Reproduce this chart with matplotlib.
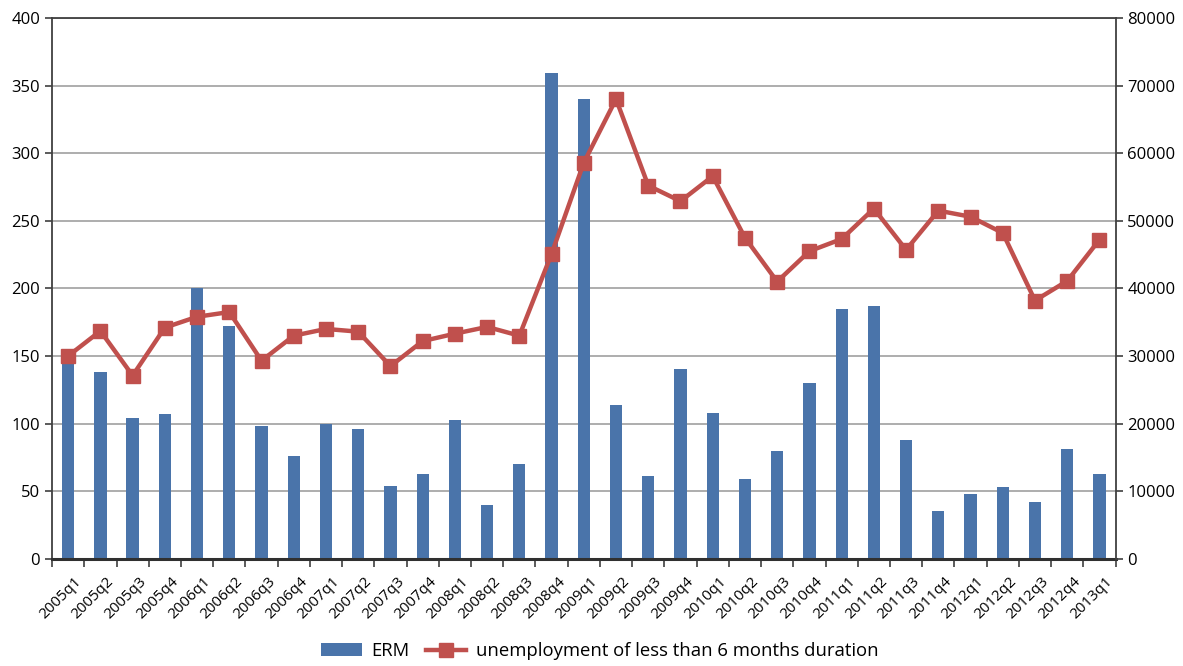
import numpy as np
import matplotlib
matplotlib.use("Agg")
import matplotlib.pyplot as plt
from matplotlib.transforms import ScaledTranslation

plt.rcParams["font.family"] = ["Open Sans", "DejaVu Sans"]

quarters = [
    "2005q1", "2005q2", "2005q3", "2005q4",
    "2006q1", "2006q2", "2006q3", "2006q4",
    "2007q1", "2007q2", "2007q3", "2007q4",
    "2008q1", "2008q2", "2008q3", "2008q4",
    "2009q1", "2009q2", "2009q3", "2009q4",
    "2010q1", "2010q2", "2010q3", "2010q4",
    "2011q1", "2011q2", "2011q3", "2011q4",
    "2012q1", "2012q2", "2012q3", "2012q4",
    "2013q1",
]

erm = [
    150, 138, 104, 107,
    200, 172, 98, 76,
    100, 96, 54, 63,
    103, 40, 70, 359,
    340, 114, 61, 140,
    108, 59, 80, 130,
    185, 187, 88, 35,
    48, 53, 42, 81,
    63,
]

unemp_short = [
    30000, 33700, 27100, 34200,
    35800, 36500, 29300, 33000,
    34000, 33600, 28500, 32200,
    33300, 34300, 33000, 45100,
    58600, 68000, 55200, 52900,
    56600, 47500, 41000, 45500,
    47300, 51800, 45700, 51500,
    50600, 48200, 38200, 41100,
    47200,
]

bar_color = "#4a74aa"
line_color = "#c0504d"

fig = plt.figure(figsize=(11.83, 6.66), dpi=100)
ax = fig.add_axes([0.044, 0.161, 0.899, 0.812])
ax2 = ax.twinx()

x = np.arange(len(quarters))
bars = ax.bar(x, erm, width=0.38, color=bar_color, zorder=2, label="ERM")
line, = ax2.plot(x, unemp_short, color=line_color, linewidth=3.2,
                 marker="s", markersize=10, zorder=3,
                 label="unemployment of less than 6 months duration")

ax.set_xlim(-0.5, len(quarters) - 0.5)
ax.set_ylim(0, 400)
ax2.set_ylim(0, 80000)
ax.set_yticks(np.arange(0, 401, 50))
ax2.set_yticks(np.arange(0, 80001, 10000))

# gridlines shared by both scales
ax.yaxis.grid(True, color="#a0a0a0", linewidth=1.2, zorder=0)
ax.set_axisbelow(True)

# category ticks sit on the boundaries between quarters
ax.set_xticks(np.append(x - 0.5, len(quarters) - 0.5))
ax.set_xticklabels([""] * (len(quarters) + 1))
ax.set_xticks(x, minor=True)
ax.set_xticklabels(quarters, minor=True, rotation=45, ha="right",
                   rotation_mode="anchor", fontsize=11)
ax.tick_params(axis="x", which="minor", length=0, pad=11)
ax.tick_params(axis="x", which="major", length=6, width=1.2, color="#404040")
shift = ScaledTranslation(6 / 100, 0, fig.dpi_scale_trans)
for lbl in ax.get_xticklabels(minor=True):
    lbl.set_transform(lbl.get_transform() + shift)

ax.tick_params(axis="y", labelsize=12, length=5, width=1.2, color="#404040")
ax2.tick_params(axis="y", labelsize=12, length=5, width=1.2, color="#404040")

for a in (ax, ax2):
    a.spines["top"].set_visible(False)
ax2.spines["bottom"].set_visible(False)
ax.spines["left"].set_color("#404040")
ax.spines["left"].set_linewidth(1.3)
ax2.spines["right"].set_color("#404040")
ax2.spines["right"].set_linewidth(1.3)
ax2.spines["left"].set_visible(False)
ax.spines["right"].set_visible(False)
ax.spines["bottom"].set_color("#303030")
ax.spines["bottom"].set_linewidth(2.2)

# top border line of the plot area
ax.axhline(400, color="#404040", linewidth=1.3, clip_on=False, zorder=1)

fig.legend([bars, line], ["ERM", "unemployment of less than 6 months duration"],
           loc="center", bbox_to_anchor=(0.507, 0.022), ncol=2, frameon=False,
           fontsize=13.3, handlelength=2.2, columnspacing=0.9, handletextpad=0.5)

fig.savefig("out.png", dpi=100)
